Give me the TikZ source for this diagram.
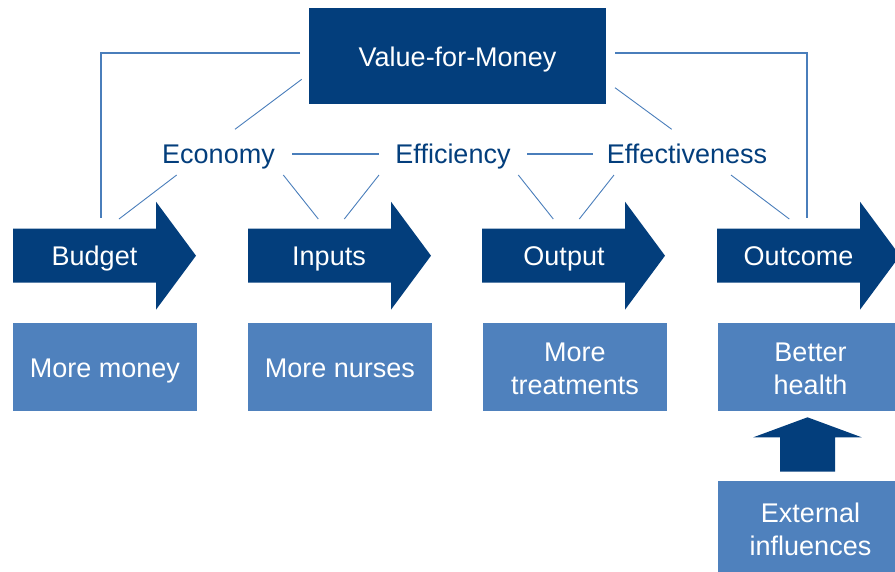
\documentclass[tikz,border=0pt]{standalone}
\usepackage{fontspec}
\setmainfont{Liberation Sans}
\definecolor{dk}{HTML}{033E7C}
\definecolor{lt}{HTML}{4F81BD}
\definecolor{ln}{HTML}{4A7EBB}
\begin{document}
\begin{tikzpicture}[x=1pt,y=-1pt,
  txt/.style={font=\fontsize{27}{33}\selectfont, inner sep=0pt},
  dktext/.style={txt, text=dk, anchor=base},
  wtext/.style={txt, text=white, anchor=base, align=center},
  lbox/.style={fill=lt, minimum width=184pt, minimum height=88pt, inner sep=0pt},
  conn/.style={draw=ln, line width=0.9pt},
  thick conn/.style={draw=ln, line width=1.6pt},
  bigarrow/.pic={\fill[dk] (0,-27) -- (143,-27) -- (143,-54) -- (183,0) -- (143,54) -- (143,27) -- (0,27) -- cycle;}
]
\useasboundingbox (0,0) rectangle (895,571);
\clip (0,0) rectangle (895,571);

% Value-for-Money
\node[fill=dk, minimum width=297pt, minimum height=96pt, inner sep=0pt] (vfmbox) at (457.5,56) {};
\node[wtext] (vfm) at (457.5,66.7) {Value-for-Money};

% big arrows
\pic at (13,255.7) {bigarrow};
\pic at (248,255.7) {bigarrow};
\pic at (482,255.7) {bigarrow};
\pic at (717,255.7) {bigarrow};
\node[wtext] (budget) at (94.5,265.7) {Budget};
\node[wtext] (inputs) at (329,265.7) {Inputs};
\node[wtext] (output) at (564,265.7) {Output};
\node[wtext] (outcome) at (798.5,265.7) {Outcome};

% criteria
\node[dktext] (econ) at (218.5,163) {Economy};
\node[dktext] (effic) at (453,163) {Efficiency};
\node[dktext] (effect) at (687,163) {Effectiveness};

% light boxes
\node[lbox] (money) at (105,366.5) {};
\node[lbox] (nurses) at (340,366.5) {};
\node[lbox] (treat) at (575,366.5) {};
\node[lbox] (health) at (810,366.5) {};
\node[lbox, minimum height=94pt] (ext) at (810,528) {};
\node[wtext] (moneyt) at (105,377.5) {More money};
\node[wtext] (nursest) at (340,377.5) {More nurses};
\node[wtext] (treatt) at (575,394) {More\\treatments};
\node[wtext] (healtht) at (810.5,394) {Better\\health};
\node[wtext] (extt) at (810.5,555) {External\\influences};

% up arrow
\fill[dk] (780,471.7) -- (780,437.3) -- (753.3,437.3) -- (807.5,417.3) -- (861.7,437.3) -- (835,437.3) -- (835,471.7) -- cycle;

% connector end points
\coordinate (vfmL) at (300,52.7);
\coordinate (vfmR) at (615,52.7);
\coordinate (budTop) at (101,218);
\coordinate (outTop) at (807,218);
\coordinate (vfmDL) at (301.7,79.3);
\coordinate (econU) at (235,129.3);
\coordinate (vfmDR) at (615,87.7);
\coordinate (effectU) at (671.7,129.3);
\coordinate (econE) at (292,154);
\coordinate (efficW) at (379,154);
\coordinate (efficE) at (527,154);
\coordinate (effectW) at (593.3,154);
\coordinate (econDL) at (176.7,175);
\coordinate (budR) at (119,219);
\coordinate (econDR) at (283.3,175);
\coordinate (inL) at (318.3,219);
\coordinate (efficDL) at (379,175);
\coordinate (inR) at (344.3,219);
\coordinate (efficDR) at (518.3,175);
\coordinate (outL) at (553.3,219);
\coordinate (effectDL) at (614,175);
\coordinate (outR) at (579.3,219);
\coordinate (effectDR) at (731,175);
\coordinate (ocL) at (789.3,219);

\draw[thick conn] (vfmL) -| (budTop);
\draw[thick conn] (vfmR) -| (outTop);
\draw[thick conn] (econE) -- (efficW);
\draw[thick conn] (efficE) -- (effectW);
\draw[conn] (vfmDL) -- (econU);
\draw[conn] (vfmDR) -- (effectU);
\draw[conn] (econDL) -- (budR);
\draw[conn] (econDR) -- (inL);
\draw[conn] (efficDL) -- (inR);
\draw[conn] (efficDR) -- (outL);
\draw[conn] (effectDL) -- (outR);
\draw[conn] (effectDR) -- (ocL);
\end{tikzpicture}
\end{document}
